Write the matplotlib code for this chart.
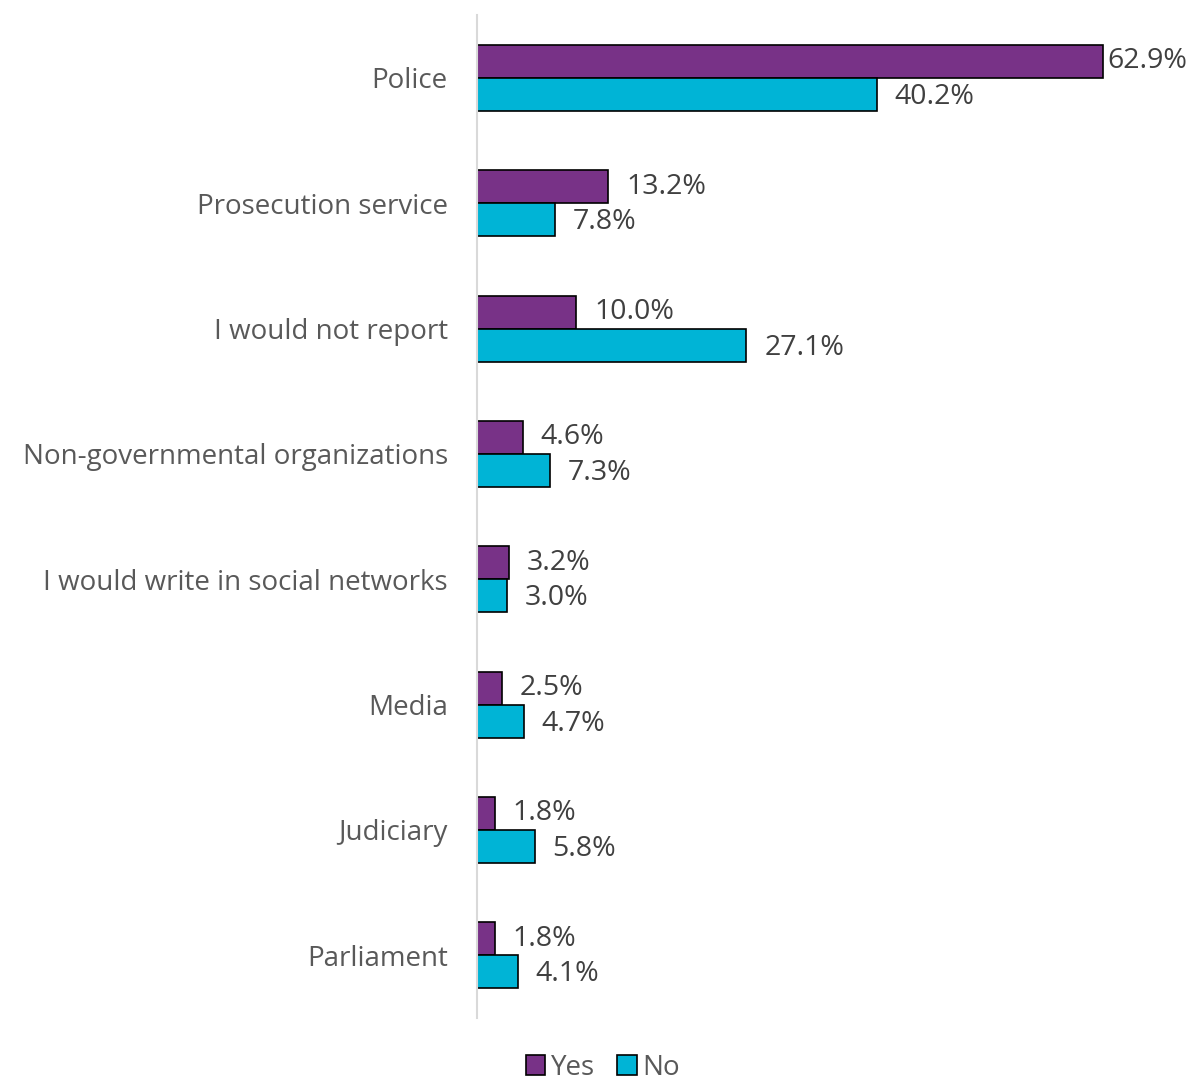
import matplotlib.pyplot as plt
import numpy as np

categories = ["Police", "Prosecution service", "I would not report",
              "Non-governmental organizations", "I would write in social networks",
              "Media", "Judiciary", "Parliament"]
yes_vals = [62.9, 13.2, 10.0, 4.6, 3.2, 2.5, 1.8, 1.8]
no_vals = [40.2, 7.8, 27.1, 7.3, 3.0, 4.7, 5.8, 4.1]

C_YES = "#783287"
C_NO = "#00B4D6"
C_TEXT = "#595959"
C_LABEL = "#404040"
X_MAX = 72.3

plt.rcParams["font.family"] = ["Open Sans", "DejaVu Sans"]

fig = plt.figure(figsize=(11.96, 10.83), dpi=100)
ax = fig.add_axes([0.3988, 0.060, 0.6012, 0.926])

y = np.arange(len(categories))
h = 0.263
ax.barh(y - h / 2, yes_vals, height=h, color=C_YES, edgecolor="black",
        linewidth=1.2, label="Yes")
ax.barh(y + h / 2, no_vals, height=h, color=C_NO, edgecolor="black",
        linewidth=1.2, label="No")


def add_label(v, yc):
    # labels sit ~18px right of the bar, pulled in when close to the edge
    off = 18 if v < X_MAX - 12 else 5
    ax.annotate(f"{v:.1f}%", (v, yc), xytext=(off, 0),
                textcoords="offset pixels", va="center", ha="left",
                fontsize=20.5, color=C_LABEL, annotation_clip=False)


for yi, v in zip(y, yes_vals):
    add_label(v, yi - h / 2)
for yi, v in zip(y, no_vals):
    add_label(v, yi + h / 2 + 0.02)

ax.set_xlim(0, X_MAX)
ax.set_ylim(len(categories) - 0.5, -0.5)
ax.set_yticks(y)
ax.set_yticklabels(categories, fontsize=20, color=C_TEXT)
ax.tick_params(axis="y", length=0, pad=21)
ax.set_xticks([])
for s in ["top", "right", "bottom"]:
    ax.spines[s].set_visible(False)
ax.spines["left"].set_color("#d9d9d9")
ax.spines["left"].set_linewidth(1.5)

fig.legend(loc="lower center", bbox_to_anchor=(0.504, -0.022), ncol=2,
           frameon=False, fontsize=20, labelcolor=C_TEXT,
           handlelength=0.7, handleheight=0.7, handletextpad=0.2,
           columnspacing=0.8)

fig.savefig("out.png", dpi=100)
